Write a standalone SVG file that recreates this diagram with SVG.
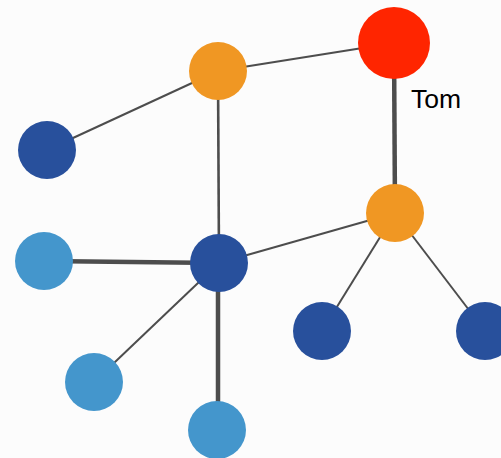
<svg xmlns="http://www.w3.org/2000/svg" width="501" height="458" viewBox="0 0 501 458">
  <style>
    .edge { stroke: #4d4d4d; stroke-linecap: butt; fill: none; }
    .thin { stroke-width: 2; }
    .mid { stroke-width: 2.6; }
    .thick { stroke-width: 4.5; }
    .red { fill: #ff2500; }
    .orange { fill: #f09723; }
    .navy { fill: #28509c; }
    .sky { fill: #4496cc; }
    .label { font-family: "Liberation Sans", Arial, sans-serif; font-size: 26.5px; fill: #000; }
  </style>
  <rect width="501" height="458" fill="#fcfcfc"/>

  <g id="connectors">
    <line class="edge thin" x1="218" y1="71" x2="394" y2="43"/>
    <line class="edge thin" x1="218" y1="71" x2="47" y2="150"/>
    <line class="edge mid" x1="218" y1="71" x2="219" y2="263"/>
    <line class="edge thick" x1="394" y1="43" x2="395" y2="213"/>
    <line class="edge thick" x1="44" y1="261" x2="219" y2="263"/>
    <line class="edge thin" x1="219" y1="263" x2="395" y2="213"/>
    <line class="edge thin" x1="219" y1="263" x2="94" y2="382"/>
    <line class="edge thick" x1="218" y1="263" x2="218" y2="430"/>
    <line class="edge thin" x1="395" y1="213" x2="322" y2="331"/>
    <line class="edge thin" x1="395" y1="213" x2="485" y2="331"/>
  </g>

  <g id="node-tom">
    <circle class="red" cx="394" cy="43" r="36"/>
    <text class="label" x="411" y="108">Tom</text>
  </g>
  <g id="node-hub-top"><circle class="orange" cx="218" cy="71" r="29"/></g>
  <g id="node-top-left"><circle class="navy" cx="47" cy="150" r="29"/></g>
  <g id="node-hub-right"><circle class="orange" cx="395" cy="213" r="29"/></g>
  <g id="node-center"><circle class="navy" cx="219" cy="263" r="29"/></g>
  <g id="node-left"><circle class="sky" cx="44" cy="261" r="29"/></g>
  <g id="node-bottom-left"><circle class="sky" cx="94" cy="382" r="29"/></g>
  <g id="node-bottom"><circle class="sky" cx="217" cy="430" r="29"/></g>
  <g id="node-right-a"><circle class="navy" cx="322" cy="331" r="29"/></g>
  <g id="node-right-b"><circle class="navy" cx="485" cy="331" r="29"/></g>
</svg>
